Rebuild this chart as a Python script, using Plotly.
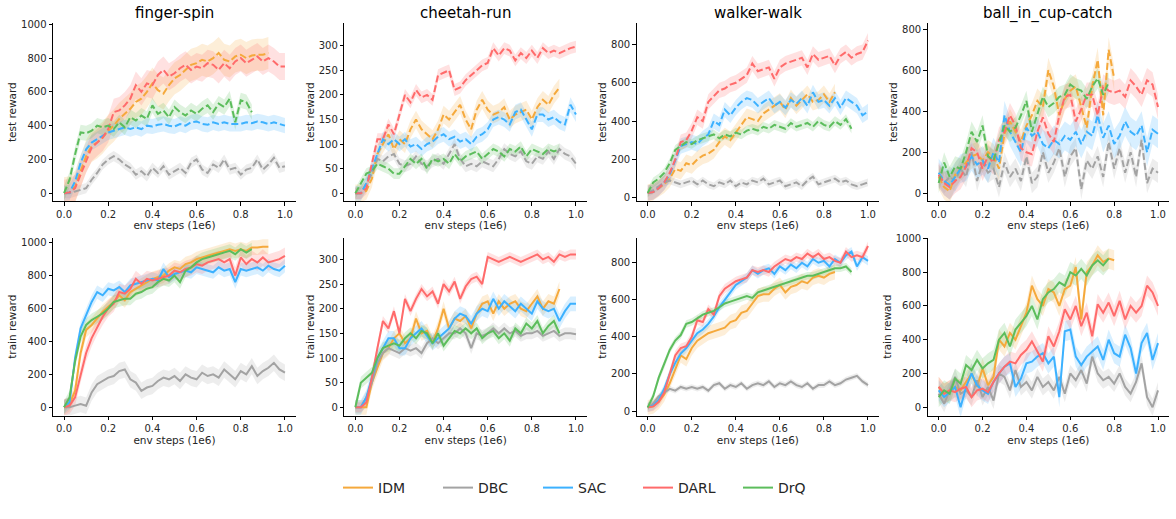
import numpy as np
import plotly.graph_objects as go

STEP = 0.025  # evaluation interval, in 1e6 env steps
METHODS = ["IDM", "DBC", "SAC", "DARL", "DrQ"]
COLORS = ["#f5a93c", "#a3a3a3", "#3cb1ff", "#ff6b6b", "#5cbd5c"]
TASKS = ["finger-spin", "cheetah-run", "walker-walk", "ball_in_cup-catch"]
X_TICKS = [0.0, 0.2, 0.4, 0.6, 0.8, 1.0]
X_TICK_LABELS = ["0.0", "0.2", "0.4", "0.6", "0.8", "1.0"]
Y_TICKS_1000 = [0, 200, 400, 600, 800, 1000]
Y_TICKS_300 = [0, 50, 100, 150, 200, 250, 300]
Y_TICKS_800 = [0, 200, 400, 600, 800]

# ---------------- test reward (top row) ----------------
FS_TEST_IDM = [0, 5, 40, 130, 220, 280, 300, 330, 370, 400, 440, 470, 500, 540, 560, 600, 650, 610, 590, 640,
               680, 700, 730, 760, 770, 790, 780, 800, 830, 790, 780, 810, 820, 800, 815, 820, 820, 830]
FS_TEST_DBC = [0, 0, 10, 20, 30, 80, 120, 170, 200, 220, 200, 170, 150, 110, 130, 100, 150, 120, 160, 110,
               130, 150, 120, 180, 200, 140, 120, 170, 150, 200, 140, 150, 110, 140, 150, 200, 140, 170, 210, 150, 160]
FS_TEST_SAC = [0, 5, 70, 180, 260, 300, 320, 340, 360, 370, 380, 390, 380, 390, 380, 400, 395, 405, 410, 400,
               395, 410, 400, 420, 425, 410, 405, 420, 410, 420, 410, 410, 410, 420, 415, 425, 420, 410, 420, 410, 400]
FS_TEST_DARL = [0, 5, 30, 110, 200, 270, 300, 330, 380, 480, 490, 520, 560, 640, 600, 650, 640, 700, 730, 690,
                710, 740, 760, 730, 750, 740, 770, 760, 730, 770, 740, 780, 800, 770, 790, 810, 780, 800, 780, 750, 750]
FS_TEST_DRQ = [0, 80, 230, 360, 355, 370, 400, 390, 400, 380, 420, 390, 450, 430, 460, 440, 520, 470, 490, 450,
               510, 480, 460, 490, 470, 500, 520, 480, 530, 510, 560, 420, 550, 540, 480]
FS_TEST_STD = [95, 30, 45, 80, 45]

CR_TEST_IDM = [0, 0, 5, 30, 80, 100, 120, 90, 110, 100, 130, 150, 130, 120, 110, 130, 160, 150, 165, 180,
               150, 130, 170, 190, 170, 160, 165, 175, 150, 160, 165, 170, 150, 175, 190, 180, 200, 215]
CR_TEST_DBC = [0, 0, 20, 40, 70, 65, 75, 80, 60, 55, 60, 75, 60, 55, 65, 70, 60, 80, 100, 70,
               55, 60, 55, 65, 60, 55, 70, 90, 80, 75, 85, 65, 60, 75, 70, 85, 70, 90, 80, 75, 60]
CR_TEST_SAC = [0, 0, 20, 50, 80, 110, 100, 110, 100, 110, 95, 100, 90, 100, 105, 115, 120, 110, 115, 105,
               110, 100, 115, 120, 130, 150, 155, 150, 140, 165, 170, 150, 130, 160, 160, 150, 155, 145, 140, 180, 160]
CR_TEST_DARL = [0, 0, 10, 60, 110, 110, 140, 120, 160, 200, 185, 210, 195, 200, 190, 240, 245, 250, 210, 215,
                230, 240, 250, 260, 265, 295, 280, 295, 290, 270, 285, 275, 290, 275, 295, 285, 290, 285, 290, 295, 298]
CR_TEST_DRQ = [0, 20, 40, 45, 60, 55, 50, 40, 40, 55, 70, 60, 70, 50, 70, 65, 70, 60, 80, 65,
               75, 80, 85, 70, 80, 90, 85, 75, 90, 85, 95, 75, 90, 85, 80, 90, 85, 90]
CR_TEST_STD = [18, 12, 15, 12, 11]

WW_TEST_IDM = [25, 30, 50, 70, 100, 150, 140, 180, 170, 200, 220, 230, 250, 290, 320, 300, 340, 380, 420, 410,
               400, 440, 460, 480, 500, 460, 520, 480, 510, 540, 500, 510, 540, 500, 550]
WW_TEST_DBC = [25, 40, 60, 80, 90, 80, 70, 80, 90, 70, 90, 70, 60, 80, 70, 90, 60, 80, 70, 90,
               80, 100, 70, 80, 90, 60, 70, 80, 60, 90, 110, 70, 80, 90, 100, 80, 90, 70, 60, 70, 80]
WW_TEST_SAC = [25, 30, 50, 80, 120, 200, 270, 280, 290, 280, 310, 330, 400, 380, 460, 430, 470, 500, 520, 510,
               480, 500, 520, 480, 500, 470, 510, 490, 520, 480, 550, 500, 510, 480, 520, 470, 520, 500, 480, 430, 450]
WW_TEST_DARL = [25, 30, 50, 80, 130, 200, 290, 300, 350, 420, 400, 500, 530, 560, 570, 590, 600, 620, 640, 700,
                660, 670, 680, 620, 680, 700, 710, 720, 730, 680, 750, 720, 730, 740, 690, 740, 760, 730, 750, 760, 820]
WW_TEST_DRQ = [25, 80, 100, 130, 180, 250, 270, 290, 280, 300, 310, 320, 330, 310, 330, 320, 340, 330, 350, 360,
               350, 370, 360, 380, 370, 360, 390, 370, 380, 390, 370, 400, 380, 370, 400, 380, 410, 360]
WW_TEST_STD = [45, 20, 40, 40, 25]

BC_TEST_IDM = [80, 30, 10, 90, 120, 150, 180, 190, 160, 200, 180, 120, 290, 350, 300, 250, 330, 380, 450, 420,
               600, 520, 380, 460, 500, 520, 420, 320, 520, 650, 380, 700, 560]
BC_TEST_DBC = [90, 50, 80, 60, 120, 80, 200, 60, 150, 100, 120, 30, 150, 80, 120, 60, 180, 50, 80, 200,
               100, 150, 220, 80, 180, 220, 20, 160, 120, 180, 80, 250, 120, 220, 100, 200, 80, 260, 50, 120, 100]
BC_TEST_SAC = [100, 60, 40, 80, 120, 130, 180, 140, 160, 120, 200, 150, 380, 300, 250, 200, 320, 280, 300, 240,
               220, 260, 240, 280, 260, 300, 240, 300, 280, 380, 270, 330, 240, 280, 350, 300, 280, 330, 200, 310, 290]
BC_TEST_DARL = [90, 50, 30, 60, 80, 130, 220, 200, 120, 180, 150, 260, 300, 380, 330, 220, 200, 190, 300, 370,
                290, 250, 380, 470, 480, 350, 410, 480, 480, 380, 520, 500, 490, 500, 470, 550, 520, 480, 550, 530, 420]
BC_TEST_DRQ = [50, 150, 80, 130, 120, 200, 300, 250, 330, 180, 160, 240, 330, 300, 320, 380, 450, 300, 380, 470,
               420, 440, 470, 480, 530, 510, 500, 460, 520, 560, 480, 540]
BC_TEST_STD = [60, 50, 70, 60, 50]

# ---------------- train reward (bottom row) ----------------
FS_TRAIN_IDM = [0, 20, 100, 330, 470, 500, 540, 580, 610, 640, 680, 650, 700, 720, 740, 760, 780, 790, 800, 830,
                850, 840, 870, 880, 900, 910, 920, 930, 940, 950, 960, 950, 960, 950, 970, 970, 975, 975]
FS_TRAIN_DBC = [0, 0, 10, 20, 10, 90, 140, 160, 180, 190, 220, 230, 170, 150, 100, 120, 130, 160, 180, 170,
                190, 160, 200, 180, 170, 210, 190, 200, 180, 230, 200, 170, 220, 200, 250, 190, 220, 240, 270, 230, 210]
FS_TRAIN_SAC = [0, 30, 300, 480, 560, 640, 700, 680, 720, 710, 730, 700, 740, 750, 760, 770, 780, 770, 840, 790,
                810, 820, 830, 820, 850, 840, 830, 820, 850, 830, 840, 760, 840, 830, 840, 850, 830, 860, 840, 830, 860]
FS_TRAIN_DARL = [0, 10, 60, 200, 330, 420, 490, 550, 600, 630, 700, 690, 720, 780, 750, 780, 770, 780, 790, 800,
                 830, 820, 840, 850, 870, 860, 880, 890, 900, 880, 900, 800, 910, 870, 900, 880, 910, 880, 890, 900, 920]
FS_TRAIN_DRQ = [0, 60, 280, 430, 500, 530, 550, 570, 600, 640, 650, 660, 660, 690, 700, 720, 730, 760, 780, 770,
                800, 760, 830, 850, 880, 900, 910, 920, 930, 940, 950, 930, 960, 940, 960]
FS_TRAIN_STD = [45, 50, 40, 50, 40]

CR_TRAIN_IDM = [0, 0, 0, 50, 80, 110, 120, 140, 150, 130, 140, 180, 150, 155, 130, 160, 200, 160, 180, 175,
                185, 160, 190, 210, 215, 190, 215, 200, 210, 215, 200, 195, 210, 225, 200, 215, 210, 240]
CR_TRAIN_DBC = [0, 0, 20, 50, 90, 110, 120, 115, 110, 120, 115, 120, 110, 130, 140, 130, 140, 150, 150, 160,
                150, 120, 150, 145, 150, 160, 150, 160, 150, 155, 145, 150, 150, 155, 145, 150, 155, 145, 150, 150, 148]
CR_TRAIN_SAC = [0, 0, 20, 60, 100, 120, 140, 140, 120, 120, 140, 150, 160, 145, 130, 140, 150, 160, 180, 190,
                185, 170, 190, 200, 195, 220, 200, 215, 205, 195, 210, 200, 190, 215, 200, 195, 200, 175, 195, 210, 210]
CR_TRAIN_DARL = [0, 0, 10, 60, 120, 175, 160, 195, 150, 220, 195, 220, 240, 225, 235, 210, 250, 235, 255, 220,
                 245, 260, 265, 250, 305, 300, 295, 300, 305, 300, 295, 300, 305, 310, 300, 305, 295, 310, 305, 310, 310]
CR_TRAIN_DRQ = [0, 50, 60, 70, 100, 120, 125, 130, 125, 140, 150, 140, 155, 150, 130, 150, 125, 140, 155, 150,
                160, 150, 160, 140, 150, 155, 140, 150, 135, 160, 150, 170, 160, 175, 150, 165, 175, 150]
CR_TRAIN_STD = [15, 12, 15, 10, 12]

WW_TRAIN_IDM = [20, 25, 50, 90, 150, 230, 300, 280, 340, 380, 400, 420, 430, 440, 450, 480, 490, 530, 540, 580,
                620, 630, 630, 660, 680, 640, 670, 680, 700, 690, 720, 730, 720, 740, 750]
WW_TRAIN_DBC = [20, 40, 80, 100, 120, 110, 130, 120, 130, 120, 130, 110, 140, 150, 120, 140, 130, 150, 120, 140,
                150, 140, 160, 130, 150, 140, 160, 140, 130, 150, 120, 140, 140, 160, 140, 150, 170, 180, 190, 160, 140]
WW_TRAIN_SAC = [20, 30, 60, 120, 200, 260, 310, 340, 380, 420, 440, 470, 510, 560, 600, 640, 680, 700, 720, 760,
                740, 760, 770, 740, 780, 760, 790, 770, 800, 780, 820, 800, 810, 780, 820, 800, 840, 860, 780, 830, 810]
WW_TRAIN_DARL = [20, 25, 50, 100, 200, 300, 340, 350, 400, 490, 480, 550, 520, 620, 660, 680, 700, 710, 720, 760,
                 750, 760, 750, 780, 800, 820, 810, 830, 820, 850, 830, 850, 820, 830, 810, 800, 860, 830, 840, 830, 890]
WW_TRAIN_DRQ = [20, 80, 180, 250, 330, 380, 410, 470, 480, 500, 520, 530, 540, 560, 580, 590, 600, 610, 620, 610,
                640, 650, 660, 670, 680, 690, 700, 710, 720, 730, 730, 740, 750, 760, 770, 770, 780, 750]
WW_TRAIN_STD = [40, 15, 25, 25, 20]

BC_TRAIN_IDM = [120, 80, 100, 120, 100, 150, 200, 120, 230, 130, 180, 400, 360, 440, 400, 480, 560, 720, 640, 600,
                700, 680, 600, 700, 720, 830, 520, 800, 840, 900, 860, 880, 870]
BC_TRAIN_DBC = [80, 20, 100, 180, 80, 100, 60, 160, 60, 120, 40, 200, 180, 100, 220, 120, 150, 100, 180, 120,
                150, 100, 180, 80, 200, 160, 220, 140, 300, 200, 160, 180, 140, 200, 120, 80, 150, 260, 60, 0, 100]
BC_TRAIN_SAC = [100, 60, 90, 120, 0, 120, 200, 130, 100, 80, 150, 200, 240, 260, 120, 170, 260, 270, 300, 320,
                260, 300, 60, 450, 460, 300, 250, 300, 330, 360, 280, 400, 320, 300, 430, 350, 200, 380, 440, 280, 380]
BC_TRAIN_DARL = [120, 80, 100, 90, 110, 120, 60, 100, 110, 90, 150, 200, 240, 270, 260, 310, 340, 390, 330, 270,
                 420, 360, 450, 580, 520, 600, 480, 560, 420, 610, 560, 620, 540, 630, 520, 600, 560, 600, 720, 680, 600]
BC_TRAIN_DRQ = [60, 100, 80, 170, 140, 250, 220, 280, 230, 260, 280, 400, 440, 360, 460, 500, 540, 600, 520, 640,
                680, 700, 740, 720, 800, 780, 820, 780, 840, 870, 840, 880]
BC_TRAIN_STD = [60, 50, 60, 60, 60]

PANELS = [
    # (row, col, y-label, y ticks, y range, series, stds)
    (0, 0, "test reward", Y_TICKS_1000, [-46, 1006],
     [FS_TEST_IDM, FS_TEST_DBC, FS_TEST_SAC, FS_TEST_DARL, FS_TEST_DRQ], FS_TEST_STD),
    (0, 1, "test reward", Y_TICKS_300, [-15.6, 345.5],
     [CR_TEST_IDM, CR_TEST_DBC, CR_TEST_SAC, CR_TEST_DARL, CR_TEST_DRQ], CR_TEST_STD),
    (0, 2, "test reward", Y_TICKS_800, [-17, 910],
     [WW_TEST_IDM, WW_TEST_DBC, WW_TEST_SAC, WW_TEST_DARL, WW_TEST_DRQ], WW_TEST_STD),
    (0, 3, "test reward", Y_TICKS_800, [-37.5, 828],
     [BC_TEST_IDM, BC_TEST_DBC, BC_TEST_SAC, BC_TEST_DARL, BC_TEST_DRQ], BC_TEST_STD),
    (1, 0, "train reward", Y_TICKS_1000, [-51, 1030],
     [FS_TRAIN_IDM, FS_TRAIN_DBC, FS_TRAIN_SAC, FS_TRAIN_DARL, FS_TRAIN_DRQ], FS_TRAIN_STD),
    (1, 1, "train reward", Y_TICKS_300, [-17, 344],
     [CR_TRAIN_IDM, CR_TRAIN_DBC, CR_TRAIN_SAC, CR_TRAIN_DARL, CR_TRAIN_DRQ], CR_TRAIN_STD),
    (1, 2, "train reward", Y_TICKS_800, [-25, 935],
     [WW_TRAIN_IDM, WW_TRAIN_DBC, WW_TRAIN_SAC, WW_TRAIN_DARL, WW_TRAIN_DRQ], WW_TRAIN_STD),
    (1, 3, "train reward", Y_TICKS_1000, [-50, 1004],
     [BC_TRAIN_IDM, BC_TRAIN_DBC, BC_TRAIN_SAC, BC_TRAIN_DARL, BC_TRAIN_DRQ], BC_TRAIN_STD),
]

W, H = 1176, 519
COL_PX = [(53, 296), (344.3, 587), (636.7, 879), (927.7, 1169)]
ROW_PX = [(23.3, 201), (237.7, 415.7)]
FONT = "DejaVu Sans"
TXT = "#262626"


def rgba(hexc, a):
    h = hexc.lstrip("#")
    r, g, b = int(h[0:2], 16), int(h[2:4], 16), int(h[4:6], 16)
    return f"rgba({r},{g},{b},{a})"


fig = go.Figure()
layout = {}
for idx, (row, col, ylab, yticks, yrange, series, stds) in enumerate(PANELS):
    n = idx + 1
    xa, ya = f"x{n}", f"y{n}"
    for m, (name, color, vals, sd) in enumerate(zip(METHODS, COLORS, series, stds)):
        y = np.array(vals, dtype=float)
        x = np.arange(len(y)) * STEP
        up, lo = y + sd, y - sd
        fig.add_trace(go.Scatter(
            x=np.concatenate([x, x[::-1]]), y=np.concatenate([up, lo[::-1]]),
            fill="toself", fillcolor=rgba(color, 0.2), line=dict(width=0),
            hoverinfo="skip", showlegend=False, xaxis=xa, yaxis=ya))
    for m, (name, color, vals, sd) in enumerate(zip(METHODS, COLORS, series, stds)):
        y = np.array(vals, dtype=float)
        x = np.arange(len(y)) * STEP
        fig.add_trace(go.Scatter(
            x=x, y=y, mode="lines", name=name,
            line=dict(color=color, width=2, dash="7px,3px" if row == 0 else "solid"),
            showlegend=(idx == 4), legendrank=m + 1, xaxis=xa, yaxis=ya))
    x0, x1 = COL_PX[col]
    y0, y1 = ROW_PX[row]
    axis_common = dict(showline=True, linecolor="#000000", linewidth=1, ticks="outside",
                       ticklen=3.5, tickwidth=1, tickcolor="#000000", showgrid=False, zeroline=False,
                       automargin=False,
                       tickfont=dict(family=FONT, size=10, color=TXT))
    layout[f"xaxis{n}"] = dict(axis_common, domain=[x0 / W, x1 / W], anchor=ya, range=[-0.05, 1.05],
                               tickvals=X_TICKS, ticktext=X_TICK_LABELS,
                               title=dict(text="env steps (1e6)", standoff=2,
                                          font=dict(family=FONT, size=10.5, color=TXT)))
    layout[f"yaxis{n}"] = dict(axis_common, domain=[1 - y1 / H, 1 - y0 / H], anchor=xa, range=yrange,
                               tickvals=yticks,
                               title=dict(text=ylab, standoff=2,
                                          font=dict(family=FONT, size=10.5, color=TXT)))

annotations = []
for c, task in enumerate(TASKS):
    x0, x1 = COL_PX[c]
    annotations.append(dict(text=task, x=(x0 + x1) / 2 / W, y=1 - 13 / H, xref="paper", yref="paper",
                            xanchor="center", yanchor="middle", showarrow=False,
                            font=dict(family=FONT, size=15, color="#000000")))

fig.update_layout(
    **layout,
    annotations=annotations,
    width=W, height=H,
    margin=dict(l=0, r=0, t=0, b=0, autoexpand=False),
    paper_bgcolor="white", plot_bgcolor="white",
    showlegend=True,
    legend=dict(orientation="h", x=0.5, xanchor="center", y=1 - 488 / H, yanchor="middle",
                font=dict(family=FONT, size=14, color=TXT), itemwidth=30,
                entrywidth=55, entrywidthmode="pixels",
                bgcolor="rgba(0,0,0,0)", traceorder="normal"),
)

fig.write_html("out.html", config={"displayModeBar": False},
               post_script="document.body.style.margin='0';document.body.style.overflow='hidden';")
